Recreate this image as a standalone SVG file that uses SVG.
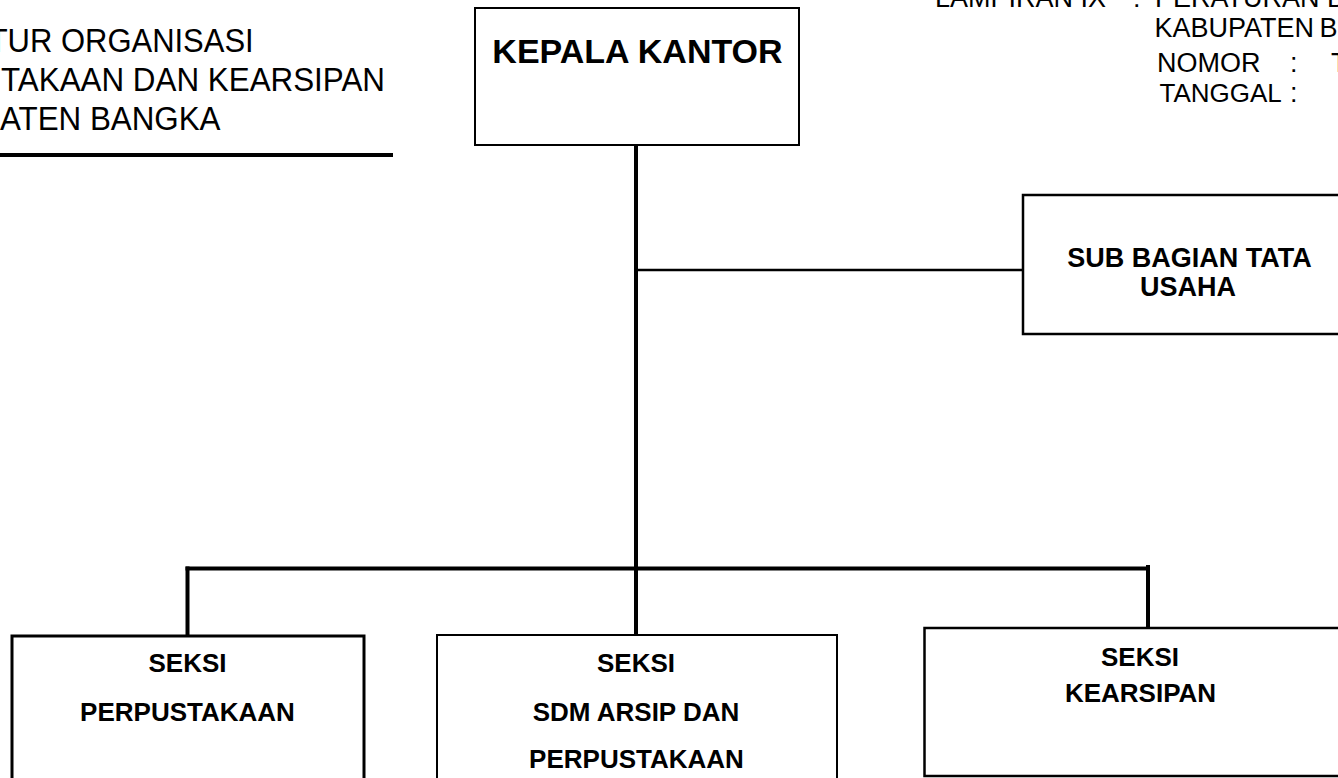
<svg xmlns="http://www.w3.org/2000/svg" width="1338" height="778" viewBox="0 0 1338 778">
<style>
.box{fill:#fff;stroke:#000;}
.t{font-family:"Liberation Sans",Arial,sans-serif;fill:#000;}
.b{font-family:"Liberation Sans",Arial,sans-serif;font-weight:bold;fill:#000;text-anchor:middle;}
.ln{stroke:#000;fill:none;stroke-linecap:butt;}
</style>
<rect width="1338" height="778" fill="#fff"/>
<g id="title">
<text class="t" x="-11.3" y="52" font-size="33.5" textLength="265" lengthAdjust="spacingAndGlyphs">TUR ORGANISASI</text>
<text class="t" x="1" y="91" font-size="33.5" textLength="384" lengthAdjust="spacingAndGlyphs">TAKAAN DAN KEARSIPAN</text>
<text class="t" x="0" y="130" font-size="33.5" textLength="220.5" lengthAdjust="spacingAndGlyphs">ATEN BANGKA</text>
<line class="ln" x1="0" y1="155" x2="393" y2="155" stroke-width="4"/>
</g>
<g id="lampiran" class="t" font-size="27">
<text class="t" x="935" y="6.5">LAMPIRAN IX</text>
<text class="t" x="1133" y="6.5">:</text>
<text class="t" x="1155" y="6.5">PERATURAN B</text>
<text class="t" x="1154.5" y="37.3" word-spacing="-2">KABUPATEN B</text>
<text class="t" x="1157" y="71.7">NOMOR</text>
<text class="t" x="1290" y="71.7">:</text>
<text class="t" x="1331" y="71.7">T</text>
<text class="t" x="1159.5" y="101.7" font-size="26">TANGGAL</text>
<text class="t" x="1290" y="101.7">:</text>
</g>
<g id="connectors">
<line class="ln" x1="636" y1="145" x2="636" y2="635" stroke-width="4"/>
<line class="ln" x1="636" y1="270" x2="1023" y2="270" stroke-width="2.5"/>
<line class="ln" x1="185.5" y1="568.5" x2="1150" y2="568.5" stroke-width="4"/>
<line class="ln" x1="187.5" y1="566.5" x2="187.5" y2="636" stroke-width="4"/>
<line class="ln" x1="1148" y1="565" x2="1148" y2="628" stroke-width="4"/>
</g>
<g id="kepala">
<rect class="box" x="475" y="8" width="324" height="137" stroke-width="2"/>
<text class="b" x="637.5" y="62.5" font-size="34">KEPALA KANTOR</text>
</g>
<g id="subbagian">
<rect class="box" x="1023" y="195" width="340" height="139" stroke-width="2.5"/>
<text class="b" x="1189.5" y="266.5" font-size="27">SUB BAGIAN TATA</text>
<text class="b" x="1188" y="295.5" font-size="27">USAHA</text>
</g>
<g id="seksi-perpustakaan">
<rect class="box" x="12" y="636" width="352" height="200" stroke-width="3"/>
<text class="b" x="187.5" y="671.5" font-size="26">SEKSI</text>
<text class="b" x="187.5" y="720.5" font-size="26">PERPUSTAKAAN</text>
</g>
<g id="seksi-sdm">
<rect class="box" x="437" y="635" width="400" height="200" stroke-width="2"/>
<text class="b" x="636" y="671.5" font-size="26">SEKSI</text>
<text class="b" x="636" y="720.5" font-size="26">SDM ARSIP DAN</text>
<text class="b" x="636.5" y="768" font-size="26">PERPUSTAKAAN</text>
</g>
<g id="seksi-kearsipan">
<rect class="box" x="924.5" y="628" width="450" height="148" stroke-width="2.5"/>
<text class="b" x="1140" y="666" font-size="26">SEKSI</text>
<text class="b" x="1140.5" y="701.5" font-size="26">KEARSIPAN</text>
</g>
</svg>
